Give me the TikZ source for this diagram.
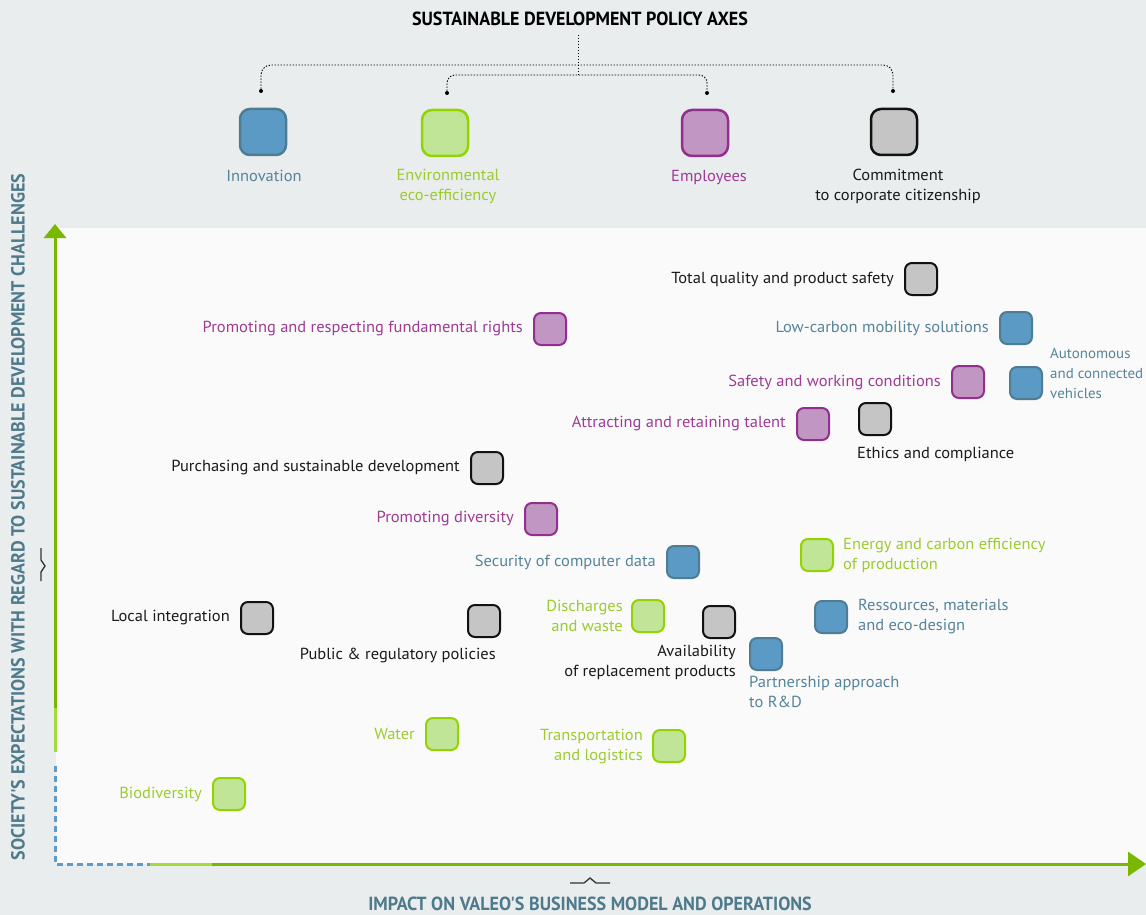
\documentclass[tikz,border=0pt]{standalone}
\usepackage{fontspec}
\setmainfont{PT Sans}
\newfontfamily\plotfont{PT Sans}[FakeStretch=1.03]
\newfontfamily\headfont{PT Sans}[FakeStretch=0.95]
\usetikzlibrary{arrows.meta,positioning}
\definecolor{bgray}{HTML}{E9EDED}
\definecolor{plotbg}{HTML}{FAFAFA}
\definecolor{bfill}{HTML}{5A9AC4}
\definecolor{bstroke}{HTML}{4D7C93}
\definecolor{btext}{HTML}{55849A}
\definecolor{gfill}{HTML}{C1E596}
\definecolor{gstroke}{HTML}{93D400}
\definecolor{gtext}{HTML}{9CCB2E}
\definecolor{pfill}{HTML}{C296C3}
\definecolor{pstroke}{HTML}{922F8E}
\definecolor{ptext}{HTML}{9E3B94}
\definecolor{kfill}{HTML}{C5C5C5}
\definecolor{kstroke}{HTML}{111111}
\definecolor{ktext}{HTML}{1A1A1A}
\definecolor{axdark}{HTML}{7AB800}
\definecolor{axlight}{HTML}{A3DA3C}
\definecolor{axblue}{HTML}{5E9BC8}
\definecolor{axtitle}{HTML}{4E7A8C}
\tikzset{
  mk/.style={rounded corners=7pt, minimum width=32pt, minimum height=32pt, line width=2pt, inner sep=0pt},
  lg/.style={rounded corners=10pt, minimum width=46pt, minimum height=46pt, line width=2.5pt, inner sep=0pt},
  bm/.style={fill=bfill, draw=bstroke},
  gm/.style={fill=gfill, draw=gstroke},
  pm/.style={fill=pfill, draw=pstroke},
  km/.style={fill=kfill, draw=kstroke},
  lbl/.style={font=\plotfont\fontsize{16}{20}\selectfont, inner sep=0pt},
  bl/.style={lbl, text=btext},
  gl/.style={lbl, text=gtext},
  pl/.style={lbl, text=ptext},
  kl/.style={lbl, text=ktext},
  conn/.style={line width=0.9pt, dash pattern=on 1.4pt off 1.6pt, black},
  cdot/.style={circle, fill=black, inner sep=0pt, minimum size=4pt},
  ttl/.style={font=\headfont\bfseries\fontsize{19}{22}\selectfont, inner sep=0pt},
  axline/.style={line width=3pt},
}
\begin{document}
\begin{tikzpicture}[x=1pt,y=-1pt]
\useasboundingbox (0,0) rectangle (1146,915);
\fill[bgray] (0,0) rectangle (1146,915);
\fill[plotbg] (56,228) rectangle (1146,864);

% title and connectors
\node[ttl, text=black] (title) at (580,19) {SUSTAINABLE DEVELOPMENT POLICY AXES};
\coordinate (ctop) at (578,35);
\coordinate (cmid) at (578,75);
\node[cdot] (d1) at (261,91) {};
\node[cdot] (d2) at (447,93) {};
\node[cdot] (d3) at (707,93) {};
\node[cdot] (d4) at (893,91) {};
\draw[conn] (ctop) -- (cmid);
\draw[conn, rounded corners=10pt] (d1) -- (261,65) -- (893,65) -- (d4);
\draw[conn, rounded corners=8pt] (d2) -- (447,75) -- (707,75) -- (d3);

% legend
\node[lg, bm] (Li) at (263,132) {};
\node[lg, gm] (Le) at (445,133) {};
\node[lg, pm] (Lp) at (705,133) {};
\node[lg, km] (Lk) at (894,132) {};
\node[bl, anchor=base] (Lit) at (264,182) {Innovation};
\node[gl, align=center, anchor=north] (Let) at (448,169) {Environmental\\eco-efficiency};
\node[pl, anchor=base] (Lpt) at (709,182) {Employees};
\node[kl, align=center, anchor=north] (Lkt) at (898,169) {Commitment\\to corporate citizenship};

% axes
\coordinate (o) at (55,864);
\coordinate (vtop) at (55,224);
\coordinate (vd) at (55,708);
\coordinate (vl) at (55,752);
\coordinate (vb) at (55,766);
\coordinate (hb) at (150,864);
\coordinate (hl) at (212,864);
\coordinate (hend) at (1146,864);
\draw[axblue, dash pattern=on 6pt off 4pt, line width=3pt] (vb) -- (o) -- (hb);
\draw[axline, axlight] (vl) -- (vd);
\draw[axline, axlight] (hb) -- (hl);
\draw[axline, axdark, -{Triangle[width=22pt,length=14pt]}] (vd) -- (vtop);
\draw[axline, axdark, -{Triangle[width=24pt,length=18pt]}] (hl) -- (hend);

\node[ttl, text=axtitle, rotate=90] (ytitle) at (18,517) {SOCIETY'S EXPECTATIONS WITH REGARD TO SUSTAINABLE DEVELOPMENT CHALLENGES};
\node[ttl, text=axtitle] (xtitle) at (590,904) {IMPACT ON VALEO'S BUSINESS MODEL AND OPERATIONS};

% small break symbols
\coordinate (ya) at (41,548);
\coordinate (yb) at (41,581);
\draw[line width=1.3pt, black!80] (ya) -- (41,560) -- (45,566) -- (41,572) -- (yb);
\coordinate (xa) at (570,883);
\coordinate (xb) at (610,883);
\draw[line width=1.3pt, black!80] (xa) -- (584,883) -- (590,878) -- (596,883) -- (xb);

% markers
\node[mk, km] (m1) at (921,279) {};
\node[kl, left=10pt of m1] (t1) {Total quality and product safety};
\node[mk, bm] (m2) at (1016,328) {};
\node[bl, left=10pt of m2] (t2) {Low-carbon mobility solutions};
\node[mk, pm] (m3) at (550,329) {};
\node[pl, left=10pt of m3] (t3) {Promoting and respecting fundamental rights};
\node[mk, pm] (m4) at (968,382) {};
\node[pl, left=10pt of m4] (t4) {Safety and working conditions};
\node[mk, bm] (m5) at (1026,383) {};
\node[bl, align=left, anchor=west, font=\plotfont\fontsize{14.5}{20}\selectfont] (t5) at (1050,373) {Autonomous\\and connected\\vehicles};
\node[mk, pm] (m6) at (813,424) {};
\node[pl, left=10pt of m6] (t6) {Attracting and retaining talent};
\node[mk, km] (m7) at (875,419) {};
\node[kl, anchor=base west] (t7) at (857,458) {Ethics and compliance};
\node[mk, km] (m8) at (487,468) {};
\node[kl, left=10pt of m8] (t8) {Purchasing and sustainable development};
\node[mk, pm] (m9) at (541,519) {};
\node[pl, left=10pt of m9] (t9) {Promoting diversity};
\node[mk, bm] (m10) at (683,562) {};
\node[bl, left=10pt of m10] (t10) {Security of computer data};
\node[mk, gm] (m11) at (817,555) {};
\node[gl, align=left, anchor=west] (t11) at (843,555) {Energy and carbon efficiency\\of production};
\node[mk, km] (m12) at (257,618) {};
\node[kl, left=10pt of m12] (t12) {Local integration};
\node[mk, km] (m13) at (484,621) {};
\node[kl, anchor=base east] (t13) at (496,659) {Public \& regulatory policies};
\node[mk, gm] (m14) at (648,616) {};
\node[gl, align=right, anchor=east] (t14) at (623,616) {Discharges\\and waste};
\node[mk, km] (m15) at (719,622) {};
\node[kl, align=right, anchor=north east] (t15) at (736,645) {Availability\\of replacement products};
\node[mk, bm] (m16) at (831,617) {};
\node[bl, align=left, anchor=west] (t16) at (858,617) {Ressources, materials\\and eco-design};
\node[mk, bm] (m17) at (766,654) {};
\node[bl, align=left, anchor=north west] (t17) at (749,676) {Partnership approach\\to R\&D};
\node[mk, gm] (m18) at (442,734) {};
\node[gl, left=10pt of m18] (t18) {Water};
\node[mk, gm] (m19) at (669,746) {};
\node[gl, align=right, anchor=east] (t19) at (643,747) {Transportation\\and logistics};
\node[mk, gm] (m20) at (229,794) {};
\node[gl, left=10pt of m20] (t20) {Biodiversity};
\end{tikzpicture}
\end{document}
